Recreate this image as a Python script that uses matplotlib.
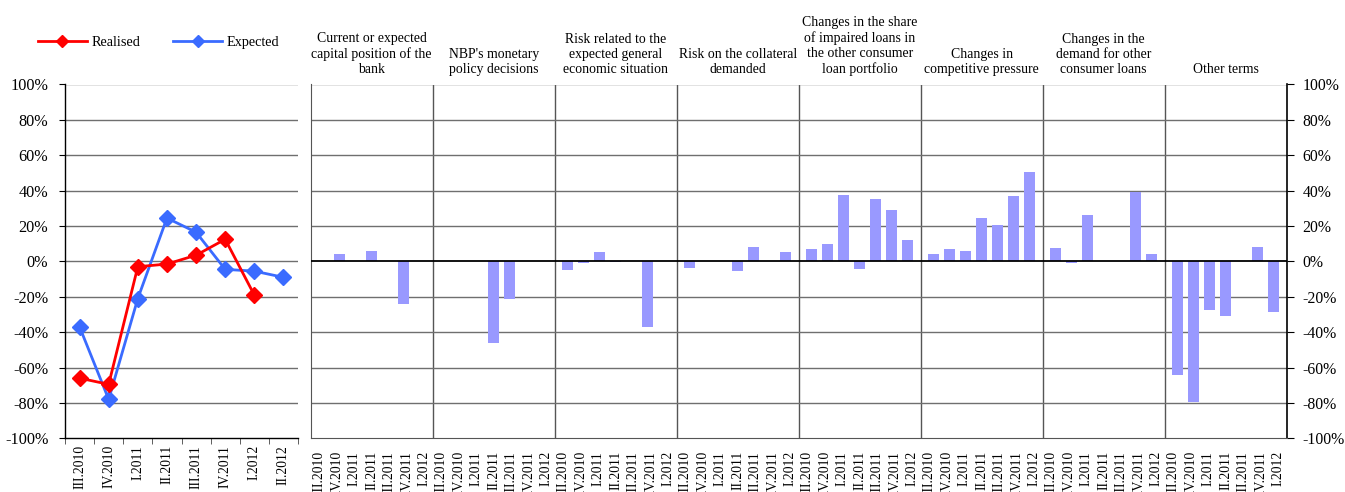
import numpy as np
import matplotlib
matplotlib.use("Agg")
import matplotlib.pyplot as plt
from matplotlib.ticker import FixedLocator

plt.rcParams['font.family'] = ['Liberation Serif', 'DejaVu Serif']

# ---------------- data ----------------
periods_line = ["III.2010", "IV.2010", "I.2011", "II.2011", "III.2011", "IV.2011", "I.2012", "II.2012"]
realised = [-66, -69.5, -3, -1.5, 3.5, 12.5, -19, np.nan]
expected = [-37, -78, -21, 24.5, 16.5, -4.5, -5.5, -9]

periods_bar = ["III.2010", "IV.2010", "I.2011", "II.2011", "III.2011", "IV.2011", "I.2012"]
group_titles = [
    "Current or expected\ncapital position of the\nbank",
    "NBP's monetary\npolicy decisions",
    "Risk related to the\nexpected general\neconomic situation",
    "Risk on the collateral\ndemanded",
    "Changes in the share\nof impaired loans in\nthe other consumer\nloan portfolio",
    "Changes in\ncompetitive pressure",
    "Changes in the\ndemand for other\nconsumer loans",
    "Other terms",
]
capital_position = [0, 4, 0, 6, 0, -24, 0]
monetary_policy = [0, 0, 0, -46, -21.5, 0, 0]
economic_risk = [-5, -1, 5.5, -0.5, 0, -37, 0]
collateral_risk = [-4, 0, 0, -5.7, 7.9, 0, 5.5]
impaired_loans = [7, 9.8, 37.5, -4.3, 35, 29, 12]
competitive_pressure = [4.2, 7, 5.7, 24.3, 20.4, 37, 50.6]
demand_changes = [7.6, -0.7, 26, 0, 0, 39.4, 4]
other_terms = [-64.3, -79.4, -27.5, -31.1, 0, 8.3, -28.7]
bar_groups = [capital_position, monetary_policy, economic_risk, collateral_risk,
              impaired_loans, competitive_pressure, demand_changes, other_terms]

yticks = list(range(-100, 101, 20))
ytick_labels = [f"{v}%" for v in yticks]

# ---------------- figure ----------------
W, H = 1345, 492
fig = plt.figure(figsize=(W / 100, H / 100), dpi=100)

def fx(px):
    return px / W

def fy(px):
    return 1 - px / H

top_px, bot_px = 84.5, 438.3
grid_col = '#6f6f6f'
RED = '#ff0000'
BLUE = '#3a6bff'
BAR = '#9999ff'

# ---------- left line chart ----------
axL = fig.add_axes([fx(65), fy(bot_px), fx(298 - 65), (bot_px - top_px) / H])
x = np.arange(len(periods_line))
axL.plot(x, realised, color=RED, lw=2.0, marker='D', ms=8.5, label='Realised', zorder=4)
axL.plot(x, expected, color=BLUE, lw=2.0, marker='D', ms=8.5, label='Expected', zorder=3)
axL.set_xlim(-0.5, len(periods_line) - 0.5)
axL.set_ylim(-100, 100)
axL.set_yticks(yticks)
axL.set_yticklabels(ytick_labels, fontsize=11.7)
axL.set_xticks(x)
axL.set_xticklabels(periods_line, rotation=90, fontsize=9.8, va='top')
axL.tick_params(axis='x', which='major', length=0, pad=5)
axL.xaxis.set_minor_locator(FixedLocator(np.arange(-0.5, len(periods_line), 1.0)))
axL.tick_params(axis='x', which='minor', length=4, direction='out', color='#444444')
axL.tick_params(axis='y', length=4, direction='out', pad=8)
for yv in yticks[1:]:
    axL.axhline(yv, color=grid_col, lw=1.0, zorder=1)
for s in ['top', 'right']:
    axL.spines[s].set_visible(False)
axL.spines['left'].set_color('black')
axL.spines['bottom'].set_color('black')
axL.spines['left'].set_linewidth(1.0)
axL.spines['bottom'].set_linewidth(1.0)

fig.legend(handles=axL.get_lines(), labels=['Realised', 'Expected'], loc='center left',
           bbox_to_anchor=(fx(38), fy(42)), ncol=2, frameon=False, fontsize=10.3,
           handlelength=3.4, handletextpad=0.35, columnspacing=2.3, borderpad=0,
           borderaxespad=0, markerscale=0.7)

# ---------- right bar chart ----------
axB = fig.add_axes([fx(310.7), fy(bot_px), fx(1286.7 - 310.7), (bot_px - top_px) / H])
n_per = len(periods_bar)
n_groups = len(bar_groups)
px_per_unit = (1286.7 - 310.7) / (n_groups * n_per)
bar_step = 16.0 / px_per_unit
bar_w = 10.8 / px_per_unit
tick_pos, tick_lab = [], []
for g, vals in enumerate(bar_groups):
    centre = g * n_per + n_per / 2
    pos = centre + (np.arange(n_per) - (n_per - 1) / 2) * bar_step
    axB.bar(pos, vals, width=bar_w, color=BAR, edgecolor='none', zorder=3)
    tick_pos.extend(g * n_per + np.arange(n_per) + 0.5)
    tick_lab.extend(periods_bar)
    fig.text(fx(310.7) + (centre / (n_groups * n_per)) * fx(1286.7 - 310.7), fy(76),
             group_titles[g], ha='center', va='bottom', fontsize=9.9, linespacing=1.2)
axB.set_xlim(0, n_groups * n_per)
axB.set_ylim(-100, 100)
axB.set_xticks(tick_pos)
axB.set_xticklabels(tick_lab, rotation=90, fontsize=9.8, va='top')
axB.tick_params(axis='x', length=0, pad=9)
for g in range(1, n_groups):
    axB.axvline(g * n_per, color='#555555', lw=1.0, zorder=1)
for yv in yticks[1:]:
    if yv == 0:
        continue
    axB.axhline(yv, color=grid_col, lw=1.0, zorder=1)
axB.axhline(0, color='black', lw=1.3, zorder=4)
axB.yaxis.tick_right()
axB.set_yticks(yticks)
axB.set_yticklabels(ytick_labels, fontsize=11.3)
axB.tick_params(axis='y', length=5, direction='out', pad=6.5)
axB.spines['top'].set_visible(False)
axB.spines['left'].set_color('#555555')
axB.spines['bottom'].set_color('#555555')
axB.spines['right'].set_color('black')
axB.spines['right'].set_linewidth(1.2)

fig.savefig('out.png', dpi=100)
